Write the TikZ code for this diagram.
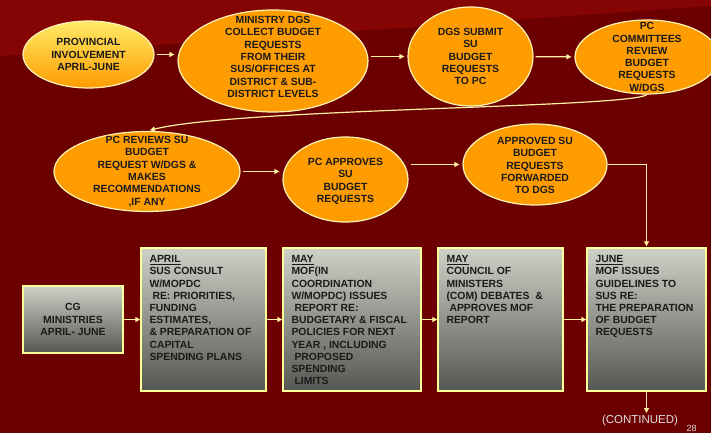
\documentclass[tikz,border=0pt]{standalone}
\usepackage{fontspec}
\setmainfont{Liberation Sans}
\usetikzlibrary{shapes.geometric,arrows.meta,positioning}

\definecolor{bgred}{HTML}{6C0000}
\definecolor{bandred}{HTML}{850404}
\definecolor{blobfill}{HTML}{FF9C00}
\definecolor{rim}{HTML}{FFF4B8}
\definecolor{cardrim}{HTML}{FFFF99}
\definecolor{cardtop}{HTML}{CDD1C6}
\definecolor{cardbot}{HTML}{555752}
\definecolor{flowcol}{HTML}{FFF0A0}
\definecolor{ink}{HTML}{1A1A1A}

\begin{document}
\begin{tikzpicture}[x=1pt,y=-1pt,
  blob/.style={ellipse,draw=rim,line width=1.2pt,fill=blobfill,inner sep=0pt},
  etxt/.style={align=center,inner sep=0pt,text=ink,font=\bfseries\fontsize{10.4}{12.3}\selectfont},
  card/.style={rectangle,draw=cardrim,line width=1.4pt,top color=cardtop,bottom color=cardbot,inner sep=0pt},
  ctxt/.style={align=left,inner sep=0pt,text=ink,font=\bfseries\fontsize{10.4}{12.2}\selectfont},
  flow/.style={draw=flowcol,line width=1.2pt,shorten <=2pt,shorten >=3pt,-{Triangle[length=5pt,width=5pt]}}]

  \useasboundingbox (0,0) rectangle (711,433);
  \fill[bgred] (0,0) rectangle (711,433);
  \fill[bandred] (0,0) -- (711,0) -- (711,6) -- (0,56) -- cycle;

  % top row
  \node[blob,minimum width=131,minimum height=67,top color=blobfill!35!yellow!60!white,bottom color=blobfill,
        shading angle=0] (prov) at (88.5,54.5) {};
  \node[etxt] (provt) at (prov) {PROVINCIAL\\INVOLVEMENT\\APRIL-JUNE};
  \node[blob,minimum width=190,minimum height=102] (dgs) at (273,61) {};
  \node[etxt] (dgst) at ([yshift=4pt]dgs.center) {MINISTRY DGS\\COLLECT BUDGET\\REQUESTS\\FROM THEIR\\SUS/OFFICES AT\\DISTRICT \& SUB-\\DISTRICT LEVELS};
  \node[blob,minimum width=125,minimum height=99] (sub) at (470.5,56.5) {};
  \node[etxt] (subt) at (sub) {DGS SUBMIT\\SU\\BUDGET\\REQUESTS\\TO PC};
  \node[blob,minimum width=144,minimum height=74] (com) at (647,57) {};
  \node[etxt] (comt) at (com) {PC\\COMMITTEES\\REVIEW\\BUDGET\\REQUESTS\\W/DGS};

  \draw[flow] (prov.east) -- (prov.east -| dgs.west);
  \draw[flow] (dgs.east |- sub) -- (sub.west);
  \draw[flow] (sub) -- (com);

  % middle row
  \node[blob,minimum width=186,minimum height=80] (rev) at (147,171.5) {};
  \node[etxt] (revt) at (rev) {PC REVIEWS SU\\BUDGET\\REQUEST W/DGS \&\\MAKES\\RECOMMENDATIONS\\,IF ANY};
  \node[blob,minimum width=125,minimum height=85] (app) at (345.5,179.5) {};
  \node[etxt] (appt) at ([yshift=-2pt]app.center) {PC APPROVES\\SU\\BUDGET\\REQUESTS};
  \node[blob,minimum width=144,minimum height=81] (fwd) at (535,164.5) {};
  \node[etxt] (fwdt) at ([yshift=-1pt]fwd.center) {APPROVED SU\\BUDGET\\REQUESTS\\FORWARDED\\TO DGS};

  \draw[flow,shorten <=0pt] (com.south) .. controls (630,108) and (240,108) .. (rev.north);
  \draw[flow] (rev.east) -- (rev.east -| app.west);
  \draw[flow] (app.east |- fwd) -- (fwd.west);

  % bottom row
  \node[card,minimum width=100,minimum height=67] (cg) at (73,319.5) {};
  \node[etxt] (cgt) at (cg) {CG\\MINISTRIES\\APRIL- JUNE};
  \node[card,minimum width=125,minimum height=143] (apr) at (203.5,319.5) {};
  \node[ctxt,below right=8pt and 9pt of apr.north west] (aprt)
    {\underline{APRIL}\\SUS CONSULT\\W/MOPDC\\\hspace*{3pt}RE: PRIORITIES,\\FUNDING\\ESTIMATES,\\\& PREPARATION OF\\CAPITAL\\SPENDING PLANS};
  \node[card,minimum width=138,minimum height=143] (may) at (352,319.5) {};
  \node[ctxt,below right=8pt and 9pt of may.north west] (mayt)
    {\underline{MAY}\\MOF(IN\\COORDINATION\\W/MOPDC) ISSUES\\\hspace*{3pt}REPORT RE:\\BUDGETARY \& FISCAL\\POLICIES FOR NEXT\\YEAR , INCLUDING\\\hspace*{3pt}PROPOSED\\SPENDING\\\hspace*{3pt}LIMITS};
  \node[card,minimum width=125,minimum height=143] (com2) at (500.5,319.5) {};
  \node[ctxt,below right=8pt and 9pt of com2.north west] (com2t)
    {\underline{MAY}\\COUNCIL OF\\MINISTERS\\(COM) DEBATES \ \&\\\hspace*{3pt}APPROVES MOF\\REPORT};
  \node[card,minimum width=119,minimum height=143] (june) at (646.5,319.5) {};
  \node[ctxt,below right=8pt and 9pt of june.north west] (junet)
    {\underline{JUNE}\\MOF ISSUES\\GUIDELINES TO\\SUS RE:\\THE PREPARATION\\OF BUDGET\\REQUESTS};

  \draw[flow,shorten <=0pt,shorten >=1pt] (fwd.east) -| (june.north);
  \draw[flow,shorten <=0pt,shorten >=0pt] (cg) -- (apr);
  \draw[flow,shorten <=0pt,shorten >=0pt] (apr) -- (may);
  \draw[flow,shorten <=0pt,shorten >=0pt] (may) -- (com2);
  \draw[flow,shorten <=0pt,shorten >=0pt] (com2) -- (june);

  \coordinate (cont) at (646.5,413);
  \draw[flow,shorten <=0pt,shorten >=0pt] (june.south) -- (cont);
  \node[text=white!88!black,font=\fontsize{11.5}{13}\selectfont,inner sep=0pt] (contt) at (640,421) {(CONTINUED)};
  \node[text=white!88!black,font=\fontsize{9}{10}\selectfont,inner sep=0pt] (pg) at (691.5,428) {28};

\end{tikzpicture}
\end{document}
